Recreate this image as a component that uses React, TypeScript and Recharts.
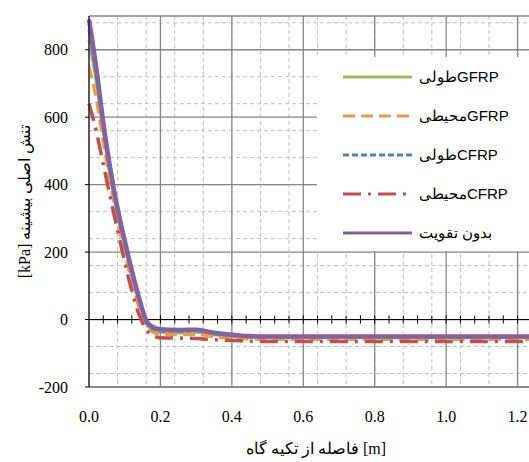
import React from "react";
import { LineChart, Line, XAxis, YAxis, CartesianGrid, ReferenceLine, Legend } from "recharts";

// distance from support [m]
const distance = [0, 0.02, 0.04, 0.06, 0.08, 0.1, 0.12, 0.14, 0.16, 0.18, 0.2, 0.25, 0.3, 0.35, 0.4, 0.45, 0.5, 0.6, 0.7, 0.8, 0.9, 1.0, 1.1, 1.2, 1.3];

// max principal stress [kPa]
const gfrpLong = [830, 705, 555, 420, 310, 215, 128, 50, -12, -32, -38, -40, -38, -45, -50, -53, -54, -54, -54, -54, -54, -54, -54, -54, -54];
const gfrpHoop = [750, 655, 525, 400, 290, 195, 110, 35, -20, -38, -44, -45, -44, -52, -56, -58, -59, -59, -59, -59, -59, -59, -59, -59, -59];
const cfrpLong = [860, 725, 565, 430, 318, 225, 137, 58, -8, -28, -34, -35, -33, -42, -47, -51, -52, -52, -52, -52, -52, -52, -52, -52, -52];
const cfrpHoop = [640, 560, 460, 360, 265, 170, 85, 15, -30, -48, -54, -55, -56, -60, -62, -64, -65, -65, -65, -65, -65, -65, -65, -65, -65];
const noReinforce = [890, 750, 585, 445, 330, 235, 145, 65, -2, -23, -29, -31, -30, -39, -45, -49, -50, -50, -50, -50, -50, -50, -50, -50, -50];

const xTicks = [0, 0.2, 0.4, 0.6, 0.8, 1.0, 1.2, 1.4];
const yTicks = [-200, 0, 200, 400, 600, 800];
const xMinor = Array.from({ length: 36 }, (_, i) => Math.round(i * 4) / 100).filter((v) => v > 0);
const yMinor = Array.from({ length: 28 }, (_, i) => -200 + i * 40).filter((v) => v > -200);

const series = [
    { key: "gfrpLong", name: "طولیGFRP", color: "#9BBB59", dash: undefined, width: 3 },
    { key: "gfrpHoop", name: "محیطیGFRP", color: "#F79646", dash: "12 6", width: 3 },
    { key: "cfrpLong", name: "طولیCFRP", color: "#4F81BD", dash: "6 3", width: 3 },
    { key: "cfrpHoop", name: "محیطیCFRP", color: "#C0504D", dash: "18 7 3 7", width: 3.5 },
    { key: "noReinforce", name: "بدون تقویت", color: "#8064A2", dash: undefined, width: 4.5 },
];

const data = distance.map((x, i) => ({
    x,
    gfrpLong: gfrpLong[i],
    gfrpHoop: gfrpHoop[i],
    cfrpLong: cfrpLong[i],
    cfrpHoop: cfrpHoop[i],
    noReinforce: noReinforce[i],
}));

const serif = "Liberation Serif";
const sans = "Liberation Sans";

const ChartLegend = () => (
    <div style={{ position: "relative", width: "100%", height: "100%", background: "#fff" }}>
        {series.map((s, i) => (
            <div
                key={s.key}
                style={{ position: "absolute", top: i * 39, left: 0, height: 39, display: "flex", alignItems: "center" }}
            >
                <svg width={69} height={8} style={{ marginLeft: 26 }}>
                    <line x1={0} y1={4} x2={69} y2={4} stroke={s.color} strokeWidth={3} strokeDasharray={s.dash} />
                </svg>
                <span style={{ marginLeft: 7, fontFamily: sans, fontSize: 15, color: "#000", whiteSpace: "nowrap" }}>
                    {s.name}
                </span>
            </div>
        ))}
    </div>
);

const StressChart = () => {
    return (
        <div
            style={{
                position: "absolute",
                left: 0,
                top: 0,
                width: 529,
                height: 462,
                overflow: "hidden",
                background: "#fff",
                fontFamily: serif,
            }}
        >
            <LineChart
                width={590}
                height={462}
                data={data}
                margin={{ top: 16, right: 1, bottom: 45, left: 0 }}
                style={{ fontFamily: serif }}
            >
                <CartesianGrid
                    stroke="#BFBFBF"
                    strokeDasharray="4 3"
                    horizontalValues={yMinor}
                    verticalValues={xMinor}
                />
                <CartesianGrid stroke="#868686" strokeWidth={1.3} horizontalValues={yTicks} verticalValues={xTicks} />
                <ReferenceLine y={900} stroke="#868686" strokeWidth={1.5} />
                <ReferenceLine y={0} stroke="#000" strokeWidth={1} />
                {xMinor.map((v) => (
                    <ReferenceLine
                        key={`tick-${v}`}
                        segment={[{ x: v, y: -12 }, { x: v, y: 12 }]}
                        stroke="#000"
                        strokeWidth={1}
                    />
                ))}
                <XAxis
                    dataKey="x"
                    type="number"
                    domain={[0, 1.4]}
                    ticks={xTicks}
                    tickFormatter={(v: number) => v.toFixed(1)}
                    height={30}
                    axisLine={{ stroke: "#808080", strokeWidth: 1.5 }}
                    tickLine={false}
                    tickMargin={18}
                    tick={{ fill: "#000", fontSize: 16, fontFamily: serif }}
                    label={{
                        value: "فاصله از تکیه گاه [m]",
                        position: "bottom",
                        offset: 26,
                        dx: -23,
                        style: { fill: "#000", fontSize: 16, fontFamily: serif },
                    }}
                />
                <YAxis
                    type="number"
                    domain={[-200, 900]}
                    ticks={yTicks}
                    allowDataOverflow
                    width={89}
                    axisLine={{ stroke: "#000" }}
                    tickLine={{ stroke: "#000" }}
                    tickSize={4}
                    tickMargin={17}
                    tick={{ fill: "#000", fontSize: 16, fontFamily: serif }}
                    label={{
                        value: "[kPa] تنش اصلی بیشینه",
                        angle: -90,
                        position: "insideLeft",
                        offset: 24,
                        style: { textAnchor: "middle", fill: "#000", fontSize: 16, fontFamily: serif },
                    }}
                />
                <Legend
                    layout="vertical"
                    align="center"
                    verticalAlign="middle"
                    content={<ChartLegend />}
                    wrapperStyle={{ left: 317, top: 57, width: 272, height: 194, background: "#fff" }}
                />
                {series.map((s) => (
                    <Line
                        key={s.key}
                        dataKey={s.key}
                        name={s.name}
                        type="monotone"
                        stroke={s.color}
                        strokeWidth={s.width}
                        strokeDasharray={s.dash}
                        dot={false}
                        activeDot={false}
                        isAnimationActive={false}
                    />
                ))}
            </LineChart>
        </div>
    );
};

export default function App() {
    return <StressChart />;
}
